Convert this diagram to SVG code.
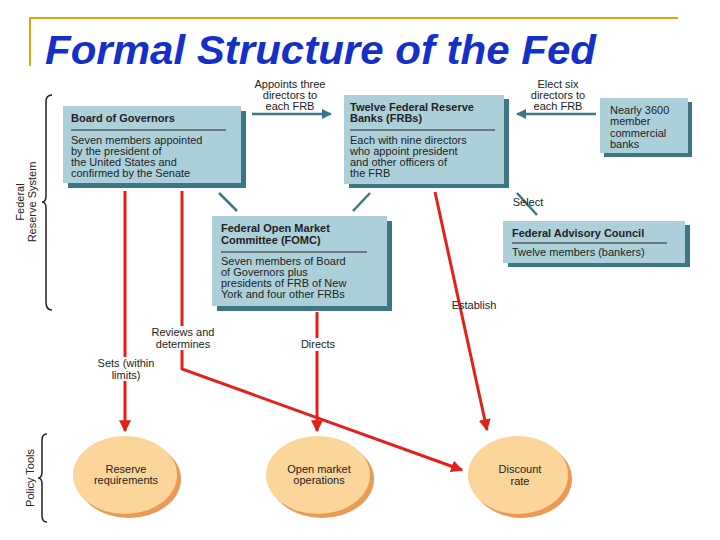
<svg xmlns="http://www.w3.org/2000/svg" width="720" height="540" viewBox="0 0 720 540">
<defs>
<style>
.bx{fill:#abd0da}.sh{fill:#3d7785}
.t{font-family:"Liberation Sans",Arial,sans-serif;font-size:11px;fill:#222}
.b{font-weight:bold}
.c{text-anchor:middle}
.red{stroke:#e3201b;stroke-width:3;fill:none}
.tl{stroke:#3d7785;stroke-width:2.5;fill:none}
.el{fill:#fcd59b}.es{fill:#eb9a55}
.br{stroke:#222;stroke-width:1.5;fill:none}
.wb{fill:#fff}
</style>
<marker id="ar" viewBox="0 0 10 10" refX="9" refY="5" markerWidth="4" markerHeight="4" orient="auto"><path d="M0,0L10,5L0,10z" fill="#e3201b"/></marker>
<marker id="at" viewBox="0 0 10 10" refX="9" refY="5" markerWidth="4" markerHeight="4" orient="auto"><path d="M0,0L10,5L0,10z" fill="#3d7785"/></marker>
</defs>
<rect width="720" height="540" fill="#fff"/>
<path d="M30,66V18H678" stroke="#d4a914" stroke-width="2" fill="none"/>
<text x="45" y="64" font-family="Liberation Sans,Arial,sans-serif" font-size="40" font-weight="bold" font-style="italic" fill="#1530c8" textLength="551" lengthAdjust="spacingAndGlyphs">Formal Structure of the Fed</text>

<g id="side">
<text transform="translate(24,202) rotate(-90)" class="t c" font-size="10">Federal</text>
<text transform="translate(36,202) rotate(-90)" class="t c" font-size="10">Reserve System</text>
<path class="br" d="M52,95Q46,95 46,102V196Q46,202 42,202Q46,202 46,208V302Q46,310 52,310"/>
<text transform="translate(34,478) rotate(-90)" class="t c" font-size="10">Policy Tools</text>
<path class="br" d="M47,434Q42,434 42,440V472Q42,478 38,478Q42,478 42,484V516Q42,522 47,522"/>
</g>

<g id="connectors">
<path class="tl" d="M252,114H331" marker-end="url(#at)"/>
<path class="tl" d="M596,114H517" marker-end="url(#at)"/>
<path class="tl" d="M219,193L237,211"/>
<path class="tl" d="M370,193L353,211"/>
<path class="tl" d="M517,193L537,215"/>
<path class="red" d="M125,191V431" marker-end="url(#ar)"/>
<path class="red" d="M182,191V369L462,470" marker-end="url(#ar)"/>
<path class="red" d="M317,312V431" marker-end="url(#ar)"/>
<path class="red" d="M435,192L487,430" marker-end="url(#ar)"/>
<rect class="wb" x="145" y="326" width="76" height="24"/>
<rect class="wb" x="93" y="357" width="66" height="24"/>
<rect class="wb" x="297" y="338" width="42" height="13"/>
<text class="t c" x="183" y="336">Reviews and</text>
<text class="t c" x="183" y="348">determines</text>
<text class="t c" x="126" y="367">Sets (within</text>
<text class="t c" x="126" y="379">limits)</text>
<text class="t c" x="318" y="348">Directs</text>
<text class="t c" x="474" y="309">Establish</text>
<text class="t c" x="528" y="206">Select</text>
<text class="t c" x="290" y="88">Appoints three</text>
<text class="t c" x="290" y="99">directors to</text>
<text class="t c" x="290" y="110">each FRB</text>
<text class="t c" x="558" y="88">Elect six</text>
<text class="t c" x="558" y="99">directors to</text>
<text class="t c" x="558" y="110">each FRB</text>
</g>

<g id="board">
<rect class="sh" x="68" y="111" width="178" height="77"/>
<rect class="bx" x="63" y="106" width="178" height="77"/>
<text class="t b" x="71" y="122">Board of Governors</text>
<path d="M71,130H226" stroke="#222"/>
<text class="t" x="71" y="144">Seven members appointed</text>
<text class="t" x="71" y="155">by the president of</text>
<text class="t" x="71" y="166">the United States and</text>
<text class="t" x="71" y="177">confirmed by the Senate</text>
</g>

<g id="frb">
<rect class="sh" x="349" y="99" width="160" height="89"/>
<rect class="bx" x="344" y="95" width="160" height="89"/>
<text class="t b" x="350" y="111">Twelve Federal Reserve</text>
<text class="t b" x="350" y="122">Banks (FRBs)</text>
<path d="M350,130H495" stroke="#222"/>
<text class="t" x="350" y="144">Each with nine directors</text>
<text class="t" x="350" y="155">who appoint president</text>
<text class="t" x="350" y="166">and other officers of</text>
<text class="t" x="350" y="177">the FRB</text>
</g>

<g id="banks">
<rect class="sh" x="604" y="102" width="88" height="55"/>
<rect class="bx" x="600" y="98" width="88" height="55"/>
<text class="t" x="610" y="114">Nearly 3600</text>
<text class="t" x="610" y="125">member</text>
<text class="t" x="610" y="137">commercial</text>
<text class="t" x="610" y="148">banks</text>
</g>

<g id="fomc">
<rect class="sh" x="217" y="221" width="175" height="90"/>
<rect class="bx" x="212" y="216" width="175" height="90"/>
<text class="t b" x="221" y="232">Federal Open Market</text>
<text class="t b" x="221" y="244">Committee (FOMC)</text>
<path d="M221,252H367" stroke="#222"/>
<text class="t" x="221" y="265">Seven members of Board</text>
<text class="t" x="221" y="276">of Governors plus</text>
<text class="t" x="221" y="287">presidents of FRB of New</text>
<text class="t" x="221" y="298">York and four other FRBs</text>
</g>

<g id="fac">
<rect class="sh" x="508" y="225" width="182" height="42"/>
<rect class="bx" x="503" y="221" width="182" height="42"/>
<text class="t b" x="512" y="237">Federal Advisory Council</text>
<path d="M512,243H667" stroke="#222"/>
<text class="t" x="512" y="256">Twelve members (bankers)</text>
</g>

<g id="reserve">
<ellipse class="es" cx="129" cy="479" rx="52" ry="39"/>
<ellipse class="el" cx="125" cy="475" rx="52" ry="39"/>
<text class="t c" x="126" y="473">Reserve</text>
<text class="t c" x="126" y="484">requirements</text>
</g>
<g id="omo">
<ellipse class="es" cx="322" cy="479" rx="52" ry="39"/>
<ellipse class="el" cx="318" cy="475" rx="52" ry="39"/>
<text class="t c" x="319" y="473">Open market</text>
<text class="t c" x="319" y="484">operations</text>
</g>
<g id="discount">
<ellipse class="es" cx="522" cy="479" rx="50" ry="39"/>
<ellipse class="el" cx="518" cy="475" rx="50" ry="39"/>
<text class="t c" x="520" y="473">Discount</text>
<text class="t c" x="520" y="485">rate</text>
</g>
</svg>
